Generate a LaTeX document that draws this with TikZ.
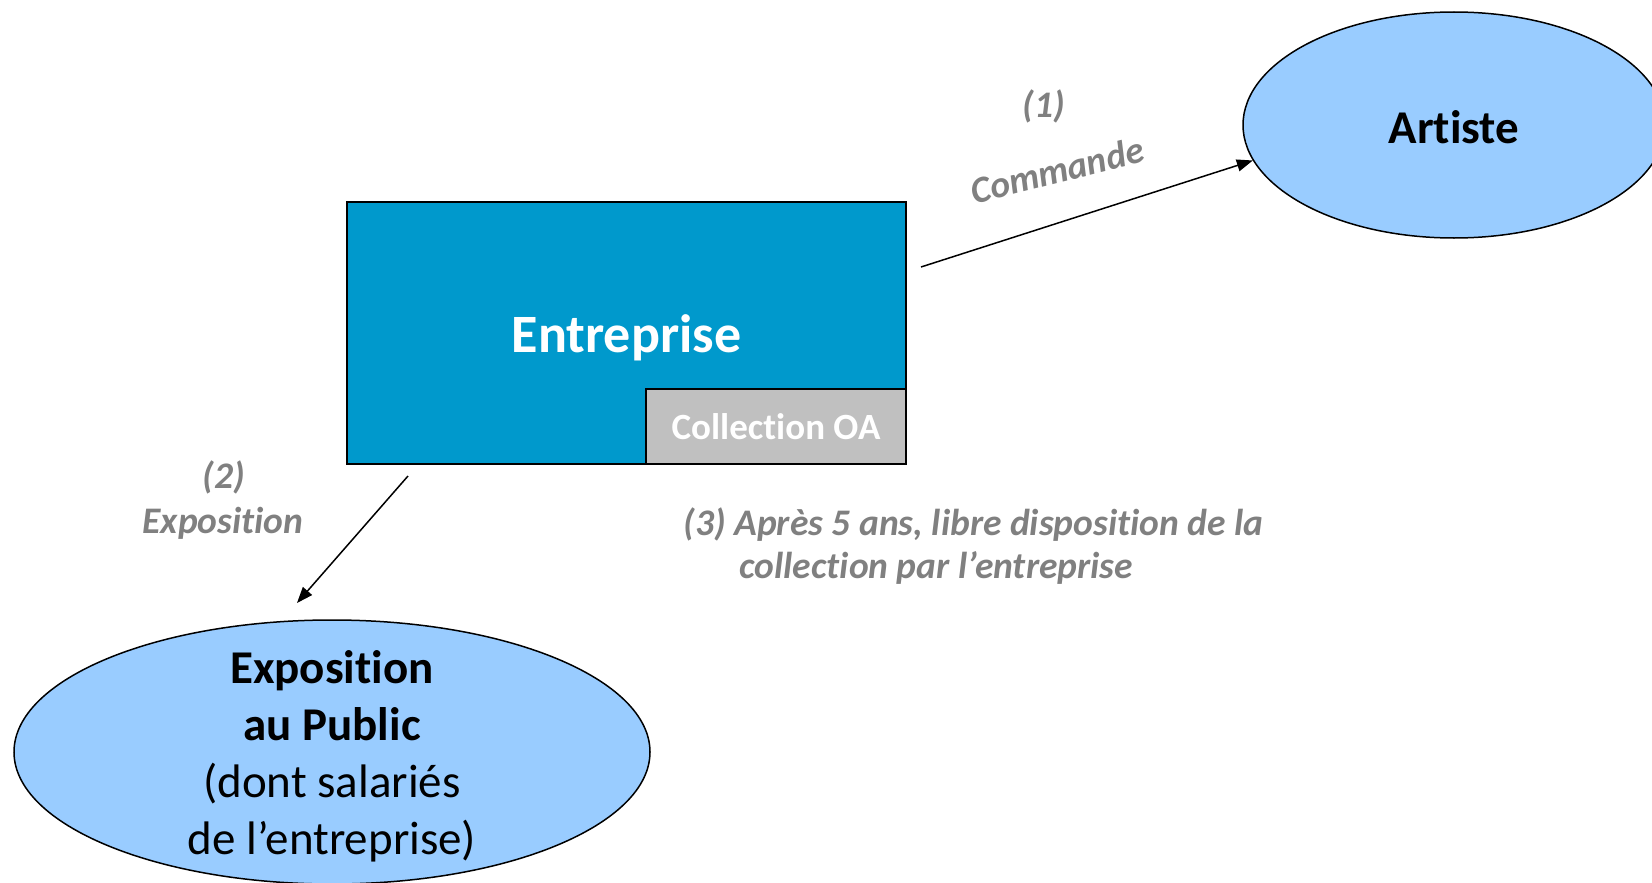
\documentclass[tikz,border=0pt]{standalone}
\usepackage{fontspec}
\setmainfont{Carlito}[Ligatures={NoCommon,NoContextual}]
\usetikzlibrary{arrows.meta}
\usetikzlibrary{positioning}
\usetikzlibrary{shapes, shapes.geometric}
\definecolor{entblue}{RGB}{0,153,204}
\definecolor{lightblue}{RGB}{153,204,255}
\definecolor{boxgrey}{RGB}{192,192,192}
\definecolor{labelgrey}{RGB}{128,128,128}

\begin{document}
\begin{tikzpicture}[x=1pt, y=-1pt,
        bubble/.style={ellipse, draw=black, line width=1.5pt, fill=lightblue, inner sep=0pt, align=center},
        steplabel/.style={text=labelgrey, font=\fontsize{37.5}{43}\selectfont\bfseries\itshape},
        flow/.style={-{Triangle[length=16pt, width=12pt]}, line width=1.5pt}]
        \useasboundingbox (0,0) rectangle (1652,883);
        \fill[white] (0,0) rectangle (1652,883);
        \clip (0,0) rectangle (1652,883);

        % Company and its collection
        \node[draw=black, line width=1.5pt, fill=entblue, minimum width=559pt, minimum height=262pt,
              text=white, font=\fontsize{54}{64}\selectfont\bfseries] (entreprise) at (626.5,333)
              {\raisebox{-5pt}[\height][\depth]{Entreprise}};
        \node[draw=black, line width=1.5pt, fill=boxgrey, minimum width=260pt, minimum height=75pt,
              text=white, font=\fontsize{37}{44}\selectfont\bfseries, anchor=south east]
              (collection) at (entreprise.south east) {Collection OA};

        % Artist and public
        \node[bubble, minimum width=422pt, minimum height=226pt, font=\fontsize{47}{57}\selectfont\bfseries]
              (artiste) at (1454,125) {\raisebox{-2pt}[\height][\depth]{Artiste}};
        \node[bubble, minimum width=636pt, minimum height=264pt, inner ysep=-30pt, font=\fontsize{47}{57}\selectfont]
              (public) at (332,752) {\raisebox{-6pt}[\height][\depth]{\begin{tabular}{@{}c@{}}
                  \textbf{Exposition}\\ \textbf{au Public}\\ (dont salariés\\ de l’entreprise)\end{tabular}}};

        % Flows
        \coordinate (cmdstart) at (921,267);
        \draw[flow] (cmdstart) -- (artiste.190);
        \coordinate (expostart) at (408,476);
        \coordinate (expoend) at (297,603);
        \draw[flow] (expostart) -- (expoend);

        % Step labels
        \node[steplabel] (cmdnum) at (1044,106) {(1)};
        \node[steplabel, rotate=14] (cmdtext) at (1057,170) {Commande};
        \node[steplabel] (exponum) at (224,477) {(2)};
        \node[steplabel] (expotext) at (223,523) {Exposition};
        \node[steplabel, align=left, anchor=west] (freetext) at (680,546)
              {(3) Après 5 ans, libre disposition de la\\ \hspace*{56pt}collection par l’entreprise};
    \end{tikzpicture}
\end{document}
